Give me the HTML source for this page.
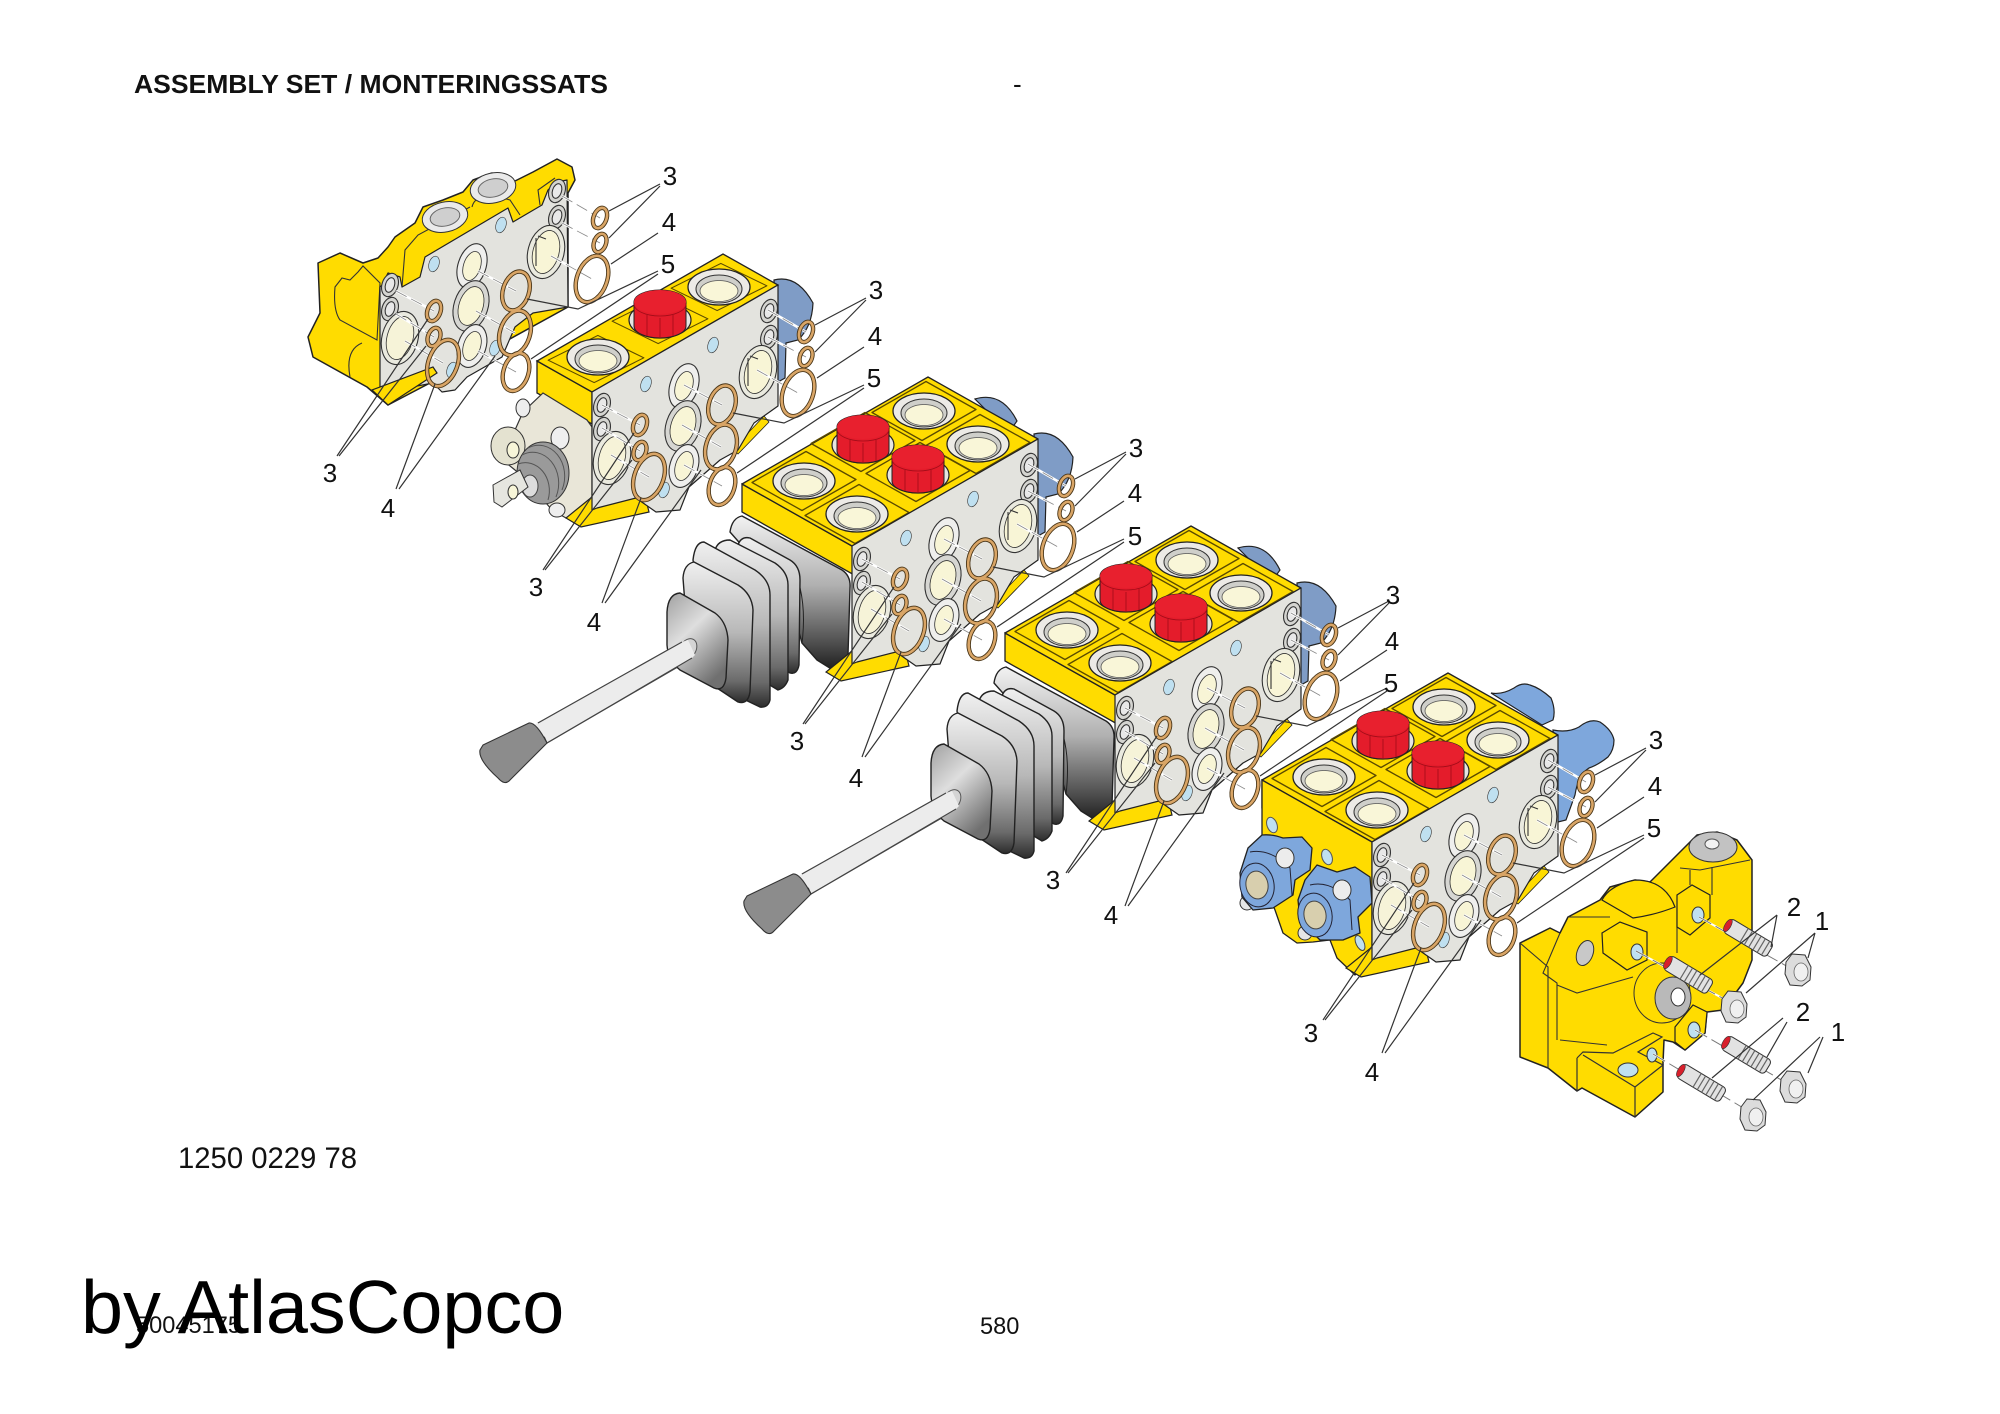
<!DOCTYPE html>
<html lang="en">
<head>
<meta charset="utf-8">
<title>Assembly set</title>
<style>
html,body{margin:0;padding:0;background:#fff;width:2000px;height:1414px;overflow:hidden}
svg{display:block}
text{font-family:"Liberation Sans",sans-serif;fill:#111}
.n{font-size:26px;text-anchor:middle}
</style>
</head>
<body>
<svg xmlns="http://www.w3.org/2000/svg" width="2000" height="1414" viewBox="0 0 2000 1414">
<defs>
<linearGradient id="fin" x1="0" y1="0" x2="0" y2="1"><stop offset="0" stop-color="#f0f0f0"/><stop offset=".5" stop-color="#b8b8b8"/><stop offset=".85" stop-color="#6a6a6a"/><stop offset="1" stop-color="#2c2c2c"/></linearGradient>
<linearGradient id="plate" x1="0" y1="0" x2="0" y2="1"><stop offset="0" stop-color="#f2f2f2"/><stop offset=".45" stop-color="#b0b0b0"/><stop offset=".8" stop-color="#555"/><stop offset="1" stop-color="#1e1e1e"/></linearGradient>
<linearGradient id="knob" x1="0" y1="0" x2=".6" y2="1"><stop offset="0" stop-color="#a0a0a0"/><stop offset=".45" stop-color="#dedede"/><stop offset="1" stop-color="#707070"/></linearGradient>
<polygon id="cell" points="2,-29.5 52,-1.5 -2,29.5 -52,1.5" fill="none" stroke="#5a4a00" stroke-width="1.3" stroke-linejoin="round"/>
<g id="cup"><ellipse rx="31" ry="18" fill="#eceae6" stroke="#222" stroke-width="1.3"/><ellipse cy="2" rx="23" ry="14" fill="#cfcfca" stroke="#333"/><ellipse cy="4" rx="19" ry="10.5" fill="#f9f6d8" stroke="#555" stroke-width=".8"/></g>
<g id="cap"><ellipse cy="2" rx="31" ry="18" fill="#e6e5e1" stroke="#222" stroke-width="1.2"/><path d="M-26,-16V8A26,12 0 0 0 26,8V-16A26,12 0 0 0 -26,-16Z" fill="#e41c2b" stroke="#222"/><ellipse cy="-16" rx="26" ry="12" fill="#e8202e"/><path d="M-26,-14A26,12 0 0 0 26,-14M-13,-3V18M0,0V20M13,-3V18" fill="none" stroke="#a00c18" stroke-width=".8"/></g>
<g id="top2">
<polygon points="0,0 -110,-62 -110,-34 4,30 4,0" fill="#ffdc00" stroke="#222" stroke-width="1.3"/>
<polygon points="0,0 186,-107 76,-169 -110,-62" fill="#ffdc00" stroke="#222" stroke-width="1.3" stroke-linejoin="round"/>
<use href="#cell" x="-48" y="-65"/><use href="#cell" x="5" y="-32"/><use href="#cell" x="11" y="-104"/><use href="#cell" x="66" y="-74"/><use href="#cell" x="72" y="-135"/><use href="#cell" x="126" y="-102"/>
<use href="#cup" x="-48" y="-65"/><use href="#cup" x="5" y="-32"/><use href="#cup" x="72" y="-135"/><use href="#cup" x="126" y="-102"/>
<use href="#cap" x="11" y="-103"/><use href="#cap" x="66" y="-73"/>
</g>
<g id="holes" stroke="#333" stroke-width="1.1">
<ellipse cx="10" cy="13" rx="8" ry="12" fill="#d4d4d0" transform="rotate(18 10 13)"/><ellipse cx="10" cy="13" rx="4.5" ry="7.5" fill="#e8e8e8" transform="rotate(18 10 13)"/>
<ellipse cx="10" cy="37" rx="8" ry="12" fill="#d4d4d0" transform="rotate(18 10 37)"/><ellipse cx="10" cy="37" rx="4.5" ry="7.5" fill="#e8e8e8" transform="rotate(18 10 37)"/>
<ellipse cx="20" cy="66" rx="18" ry="27" fill="#eaeadf" transform="rotate(15 20 66)"/><ellipse cx="20" cy="66" rx="13" ry="22" fill="#f6f3d8" stroke-width=".8" transform="rotate(15 20 66)"/>
<ellipse cx="54" cy="-8" rx="5" ry="8" fill="#bfe0f0" stroke-width=".6" transform="rotate(18 54 -8)"/>
<ellipse cx="121" cy="-47" rx="5" ry="8" fill="#bfe0f0" stroke-width=".6" transform="rotate(18 121 -47)"/>
<ellipse cx="72" cy="98" rx="5" ry="8" fill="#bfe0f0" stroke-width=".6" transform="rotate(18 72 98)"/>
<ellipse cx="92" cy="-6" rx="14" ry="23" fill="#efefed" transform="rotate(18 92 -6)"/><ellipse cx="92" cy="-6" rx="8.5" ry="15" fill="#f8f5d6" stroke-width=".8" transform="rotate(18 92 -6)"/>
<ellipse cx="91" cy="34" rx="17" ry="26" fill="#d6d6d2" transform="rotate(18 91 34)"/><ellipse cx="91" cy="34" rx="12" ry="20" fill="#f8f5d6" stroke-width=".8" transform="rotate(18 91 34)"/>
<ellipse cx="92" cy="74" rx="14" ry="22" fill="#efefed" transform="rotate(18 92 74)"/><ellipse cx="92" cy="74" rx="8.5" ry="15" fill="#f8f5d6" stroke-width=".8" transform="rotate(18 92 74)"/>
<ellipse cx="177" cy="-81" rx="8" ry="12" fill="#d4d4d0" transform="rotate(18 177 -81)"/><ellipse cx="177" cy="-81" rx="4.5" ry="7.5" fill="#e8e8e8" transform="rotate(18 177 -81)"/>
<ellipse cx="177" cy="-55" rx="8" ry="12" fill="#d4d4d0" transform="rotate(18 177 -55)"/><ellipse cx="177" cy="-55" rx="4.5" ry="7.5" fill="#e8e8e8" transform="rotate(18 177 -55)"/>
<ellipse cx="166" cy="-20" rx="18" ry="27" fill="#eaeadf" transform="rotate(15 166 -20)"/><ellipse cx="166" cy="-20" rx="13" ry="22" fill="#f8f5d6" stroke-width=".8" transform="rotate(15 166 -20)"/>
<path d="M156,-34V-6M158,-36L166,-33" fill="none"/>
</g>
<g id="face">
<polygon points="-26,126 -11,135 57,120 52,100 0,105" fill="#ffdc00" stroke="#222" stroke-width="1.2"/>
<polygon points="140,58 172,24 177,30 146,62" fill="#ffdc00" stroke="#222" stroke-width=".8"/>
<polygon points="0,0 186,-107 186,14 162,31 146,58 128,68 97,95 88,118 64,120 44,106 5,116 0,118" fill="#e3e3de" stroke="#222" stroke-width="1.2" stroke-linejoin="round"/>
<use href="#holes"/>
</g>
<g id="axes" fill="none">
<path d="M10,13L48,33M10,36L48,59M19,63L57,85M92,-7L130,13M90,33L129,55M92,73L130,94M176,-82L214,-60M176,-55L214,-35M165,-22L206,1" stroke="#fff" stroke-width="2.5"/>
<path d="M10,13L48,33M10,36L48,59M19,63L57,85M92,-7L130,13M90,33L129,55M92,73L130,94M176,-82L214,-60M176,-55L214,-35M165,-22L206,1" stroke="#888" stroke-width=".8" stroke-dasharray="12 5"/>
</g>
<g id="rings">
<use href="#axes"/>
<g fill="none" stroke="#4a3618" stroke-width="4.4">
<ellipse cx="48" cy="33" rx="6.5" ry="10.5" transform="rotate(20 48 33)"/><ellipse cx="48" cy="59" rx="6" ry="9.5" transform="rotate(20 48 59)"/><ellipse cx="57" cy="85" rx="14.5" ry="24" transform="rotate(20 57 85)"/><ellipse cx="130" cy="13" rx="13" ry="20" transform="rotate(18 130 13)"/><ellipse cx="129" cy="55" rx="15" ry="23" transform="rotate(18 129 55)"/><ellipse cx="130" cy="94" rx="12.5" ry="19.5" transform="rotate(18 130 94)"/><ellipse cx="214" cy="-60" rx="6.5" ry="10.5" transform="rotate(20 214 -60)"/><ellipse cx="214" cy="-35" rx="6" ry="9.5" transform="rotate(20 214 -35)"/><ellipse cx="206" cy="1" rx="15" ry="24" transform="rotate(20 206 1)"/>
</g>
<g fill="none" stroke="#d9a566" stroke-width="2.6">
<ellipse cx="48" cy="33" rx="6.5" ry="10.5" transform="rotate(20 48 33)"/><ellipse cx="48" cy="59" rx="6" ry="9.5" transform="rotate(20 48 59)"/><ellipse cx="57" cy="85" rx="14.5" ry="24" transform="rotate(20 57 85)"/><ellipse cx="130" cy="13" rx="13" ry="20" transform="rotate(18 130 13)"/><ellipse cx="129" cy="55" rx="15" ry="23" transform="rotate(18 129 55)"/><ellipse cx="130" cy="94" rx="12.5" ry="19.5" transform="rotate(18 130 94)"/><ellipse cx="214" cy="-60" rx="6.5" ry="10.5" transform="rotate(20 214 -60)"/><ellipse cx="214" cy="-35" rx="6" ry="9.5" transform="rotate(20 214 -35)"/><ellipse cx="206" cy="1" rx="15" ry="24" transform="rotate(20 206 1)"/>
</g>
<path d="M274,-94L223,-67M274,-92L223,-40M272,-45L225,-14M272,-7L192,31L141,21M272,-4L145,81M-49,178L42,41M-47,178L40,68M10,211L49,106M13,211L109,78" fill="none" stroke="#333" stroke-width="1.2"/>
</g>
<path id="blueb" d="M182,-112Q205,-118 221,-89Q220,-65 206,-52L194,-49L193,-14L186,-10Z" fill="#7f9cc6" stroke="#222" stroke-width="1.2"/>
<path id="blueb2" d="M123,-147Q150,-155 165,-125L160,-118L140,-130Z" fill="#7f9cc6" stroke="#222" stroke-width="1.2"/>
<g id="lever" stroke="#222" stroke-width="1.4" stroke-linejoin="round">
<path d="M730,532Q732,518 742,516L842,570Q851,576 850,588L848,655L833,670L817,660L802,643L790,600Z" fill="url(#plate)"/>
<path d="M790,560Q808,595 802,643" fill="none" stroke-width="1"/>
<path d="M738,545Q741,536 750,538L790,560Q800,566 800,580L799,665Q797,675 790,673L770,660Z" fill="url(#fin)"/>
<path d="M715,550Q718,540 730,540L775,563Q788,572 788,585L788,680Q785,688 778,690L745,670Z" fill="url(#fin)"/>
<path d="M693,560Q695,542 704,542L755,570Q770,580 770,595L770,700Q768,708 760,707L735,695L700,600Z" fill="url(#fin)"/>
<path d="M683,578Q684,564 694,562L738,585Q752,594 753,610L750,692Q748,705 738,702L690,670Z" fill="url(#fin)"/>
<polygon points="682,642 695,657 547,743 538,723" fill="#ececec" stroke="#444" stroke-width="1.1"/>
<path d="M667,612Q668,594 680,593L715,613Q727,622 728,640L726,678Q724,692 714,688L680,670Q668,660 667,645Z" fill="url(#knob)"/>
<ellipse cx="688" cy="649" rx="8" ry="11" fill="#d4d4d4" stroke="#555" stroke-width="1" transform="rotate(30 688 649)"/>
<polygon points="682,642 688,640 695,655 690,660 538,740 532,726" fill="#ececec" stroke="none"/>
<path d="M682,642L538,723M692,658L547,743" stroke="#444" stroke-width="1.1" fill="none"/>
<path d="M483,745L529,723Q536,722 547,743L510,780Q505,786 498,778Q478,760 480,750Z" fill="#8c8c8c" stroke="#333" stroke-width="1.1"/>
</g>
<g id="stud">
<rect x="0" y="-8" width="50" height="16" rx="4" fill="#e2e2e2" stroke="#333"/>
<path d="M20,-8V8M25,-8V8M30,-8V8M35,-8V8M40,-8V8M45,-8V8" stroke="#666" stroke-width="1.2"/>
<ellipse cx="1" cy="0" rx="3" ry="7" fill="#d8202c" stroke="#333" stroke-width=".6"/>
</g>
<g id="nut"><polygon points="-6,-16 7,-15 13,-3 12,10 4,16 -8,15 -13,4 -12,-8" fill="#dcdcdc" stroke="#333"/><ellipse cx="3" cy="2" rx="7" ry="9" fill="#f0f0f0" stroke="#666" stroke-width=".8"/></g>
</defs>

<rect width="2000" height="1414" fill="#fff"/>
<text x="134" y="93" font-size="26" font-weight="700" textLength="474" lengthAdjust="spacingAndGlyphs">ASSEMBLY SET / MONTERINGSSATS</text>
<text x="1013" y="93" font-size="26">-</text>

<!-- block 1 -->
<path d="M318,263L340,253L363,263L378,258L388,247L395,237L415,223L423,207L443,200L463,192L473,180L492,173L513,182L533,172L557,159L572,167L575,180L568,193L568,307L430,383L388,405L367,387L313,357L308,337L320,313Z" fill="#ffdc00" stroke="#222" stroke-width="1.5" stroke-linejoin="round"/>
<path d="M335,287L342,278L350,280L358,272L363,266L380,283L377,340L340,320Q333,310 335,287ZM350,377Q345,350 362,343M402,287L405,250L418,235L470,207M472,207Q476,190 510,200L520,215M540,205L538,190L555,178" fill="none" stroke="#333" stroke-width="1.1"/>
<ellipse cx="445" cy="217" rx="23" ry="15" fill="#eaeaea" stroke="#333" transform="rotate(-12 445 217)"/><ellipse cx="445" cy="217" rx="15" ry="9" fill="#cfcfcf" stroke="#666" transform="rotate(-12 445 217)"/>
<ellipse cx="493" cy="188" rx="23" ry="15" fill="#eaeaea" stroke="#333" transform="rotate(-12 493 188)"/><ellipse cx="493" cy="188" rx="15" ry="9" fill="#cfcfcf" stroke="#666" transform="rotate(-12 493 188)"/>
<polygon points="382,285 388,273 400,277 402,287 420,277 425,257 508,208 513,222 542,205 548,190 557,182 567,180 568,307 533,313 515,327 502,357 467,377 455,390 442,392 433,383 380,393 380,287" fill="#e3e3de" stroke="#222" stroke-width="1.2" stroke-linejoin="round"/>
<use href="#holes" transform="translate(380,272)"/>
<ellipse cx="495" cy="348" rx="5" ry="8" fill="#bfe0f0" stroke="#444" stroke-width=".6" transform="rotate(18 495 348)"/>
<polygon points="372,390 388,405 437,373 433,367" fill="#ffdc00" stroke="#222" stroke-width="1.2"/>
<g transform="translate(386,278)"><use href="#rings"/>
<text class="n" x="284" y="-93">3</text><text class="n" x="283" y="-47">4</text><text class="n" x="282" y="-5">5</text><text class="n" x="-56" y="204">3</text><text class="n" x="2" y="239">4</text></g>

<!-- block 2 -->
<use href="#blueb" transform="translate(592,392)"/>
<polygon points="592,392 537,361 537,393 592,424" fill="#ffdc00" stroke="#222" stroke-width="1.3"/>
<path d="M543,393L587,420L592,427L592,507L566,518L552,510L535,490L515,470L500,458L492,445L505,428L515,430L523,412Z" fill="#e9e6d8" stroke="#333" stroke-width="1.2"/>
<ellipse cx="523" cy="408" rx="7" ry="9" fill="#eee" stroke="#333"/>
<ellipse cx="557" cy="510" rx="8" ry="7" fill="#eee" stroke="#333"/>
<ellipse cx="508" cy="446" rx="17" ry="19" fill="#e4e2d0" stroke="#333"/><ellipse cx="513" cy="450" rx="6" ry="8" fill="#f7f5d8" stroke="#333"/>
<ellipse cx="560" cy="438" rx="9" ry="11" fill="#efefef" stroke="#333"/>
<ellipse cx="543" cy="473" rx="26" ry="31" fill="#9a9a9a" stroke="#333"/>
<path d="M528,448A26,31 0 0 1 562,490M522,455A26,31 0 0 1 556,497M518,464A24,28 0 0 1 548,500" fill="none" stroke="#555"/>
<ellipse cx="530" cy="486" rx="8" ry="11" fill="#dcdcdc" stroke="#444"/>
<path d="M493,485L520,470L528,487L502,507L494,502Z" fill="#e6e6e0" stroke="#333"/>
<ellipse cx="513" cy="492" rx="5" ry="7" fill="#f7f5d8" stroke="#333"/>
<polygon points="592,392 778,285 723,254 537,361" fill="#ffdc00" stroke="#222" stroke-width="1.3"/>
<g transform="translate(592,392)">
<g transform="translate(4,-33) scale(.92,.8)"><use href="#cell"/></g><g transform="translate(68,-72) scale(.92,.8)"><use href="#cell"/></g><g transform="translate(127,-105) scale(.92,.8)"><use href="#cell"/></g>
<use href="#cup" x="6" y="-35"/><use href="#cap" x="68" y="-74"/><use href="#cup" x="127" y="-105"/>
<use href="#face"/><use href="#rings"/>
<text class="n" x="284" y="-93">3</text><text class="n" x="283" y="-47">4</text><text class="n" x="282" y="-5">5</text><text class="n" x="-56" y="204">3</text><text class="n" x="2" y="239">4</text>
</g>

<!-- block 3 -->
<g transform="translate(852,546)"><use href="#blueb2"/><use href="#blueb"/><use href="#top2"/></g>
<use href="#lever"/>
<g transform="translate(852,546)"><use href="#face"/><use href="#rings"/>
<text class="n" x="284" y="-89">3</text><text class="n" x="283" y="-44">4</text><text class="n" x="283" y="-1">5</text><text class="n" x="-55" y="204">3</text><text class="n" x="4" y="241">4</text></g>

<!-- block 4 -->
<g transform="translate(1115,695)"><use href="#blueb2"/><use href="#blueb"/><use href="#top2"/></g>
<use href="#lever" transform="translate(264,151)"/>
<g transform="translate(1115,695)"><use href="#face"/><use href="#rings"/>
<text class="n" x="278" y="-91">3</text><text class="n" x="277" y="-45">4</text><text class="n" x="276" y="-3">5</text><text class="n" x="-62" y="194">3</text><text class="n" x="-4" y="229">4</text></g>

<!-- block 5 -->
<path d="M1491,693Q1502,695 1514,688Q1522,682 1530,685Q1540,688 1551,698Q1556,710 1553,720L1542,725Z" fill="#7ea7dc" stroke="#222" stroke-width="1.2"/>
<path d="M1553,730Q1568,733 1579,727Q1590,718 1600,722Q1612,730 1614,740Q1614,750 1608,757Q1598,765 1589,768Q1578,775 1575,795L1566,820L1558,822Z" fill="#7ea7dc" stroke="#222" stroke-width="1.2"/>
<g transform="translate(1372,842)"><use href="#top2"/></g>
<path d="M1262,780L1372,842L1372,960L1355,975L1337,958L1330,940L1313,942L1297,943L1283,933L1275,910L1262,877Z" fill="#ffdc00" stroke="#222" stroke-width="1.3" stroke-linejoin="round"/>
<ellipse cx="1272" cy="825" rx="5" ry="8" fill="#bfe0f0" stroke="#555" transform="rotate(-20 1272 825)"/>
<ellipse cx="1327" cy="857" rx="5" ry="8" fill="#bfe0f0" stroke="#555" transform="rotate(-20 1327 857)"/>
<ellipse cx="1247" cy="903" rx="7" ry="7" fill="#e6e6e6" stroke="#333"/>
<ellipse cx="1305" cy="933" rx="7" ry="7" fill="#e6e6e6" stroke="#333"/>
<ellipse cx="1360" cy="943" rx="4" ry="8" fill="#bfe0f0" stroke="#444" transform="rotate(-25 1360 943)"/>
<path d="M1248,848L1262,835Q1272,834 1283,838L1302,837L1312,848L1310,870L1295,880L1293,895L1273,908L1253,910L1242,897L1240,873Z" fill="#7ea7dc" stroke="#222" stroke-width="1.3" stroke-linejoin="round"/>
<path d="M1250,852Q1270,848 1290,868L1292,895" fill="none" stroke="#223" stroke-width="1"/>
<ellipse cx="1257" cy="885" rx="17" ry="22" fill="#7ea7dc" stroke="#223" transform="rotate(-10 1257 885)"/>
<ellipse cx="1257" cy="885" rx="11" ry="14" fill="#d8cfae" stroke="#444" transform="rotate(-10 1257 885)"/>
<ellipse cx="1285" cy="858" rx="9" ry="10" fill="#ececec" stroke="#333"/>
<path d="M1305,880L1317,865L1337,872L1355,867L1370,877L1372,903L1358,917L1360,933L1343,940L1320,940L1300,920L1298,900Z" fill="#7ea7dc" stroke="#222" stroke-width="1.3" stroke-linejoin="round"/>
<path d="M1310,885Q1330,880 1350,900L1352,930" fill="none" stroke="#223" stroke-width="1"/>
<ellipse cx="1315" cy="915" rx="17" ry="22" fill="#7ea7dc" stroke="#223" transform="rotate(-10 1315 915)"/>
<ellipse cx="1315" cy="915" rx="11" ry="14" fill="#d8cfae" stroke="#444" transform="rotate(-10 1315 915)"/>
<ellipse cx="1342" cy="890" rx="9" ry="10" fill="#ececec" stroke="#333"/>
<g transform="translate(1372,842)"><use href="#face"/><use href="#rings"/>
<text class="n" x="284" y="-93">3</text><text class="n" x="283" y="-47">4</text><text class="n" x="282" y="-5">5</text><text class="n" x="-61" y="200">3</text><text class="n" x="0" y="239">4</text></g>

<!-- end housing -->
<path d="M1520,943L1550,928L1560,933L1568,917L1600,900L1610,887L1635,880L1650,882L1677,855L1687,845L1697,835L1717,832L1737,840L1752,860L1752,960L1743,983L1723,1010L1707,1012L1705,1033L1685,1050L1673,1042L1664,1040L1663,1063L1663,1092L1635,1117L1582,1088L1577,1091L1548,1068L1520,1057Z" fill="#ffdc00" stroke="#222" stroke-width="1.5" stroke-linejoin="round"/>
<path d="M1520,943L1548,967L1548,1068M1560,933L1543,973L1557,983L1557,1040M1568,917L1610,917M1557,985L1577,993L1633,977M1560,1040L1607,1045M1677,908L1677,953M1712,867L1712,895M1690,870L1690,885M1680,868L1700,870L1750,860" fill="none" stroke="#333" stroke-width="1.1"/>
<path d="M1602,900Q1610,885 1635,880Q1665,880 1675,907Q1655,915 1633,918Z" fill="#ffdc00" stroke="#222" stroke-width="1.2"/>
<ellipse cx="1585" cy="953" rx="8" ry="13" fill="#c8c8c8" stroke="#333" transform="rotate(20 1585 953)"/>
<ellipse cx="1713" cy="847" rx="24" ry="15" fill="#c2c2c2" stroke="#333"/><ellipse cx="1712" cy="844" rx="7" ry="5" fill="#f2f2f2" stroke="#555"/>
<polygon points="1677,895 1692,885 1710,895 1710,918 1690,935 1677,927" fill="#ffdc00" stroke="#222" stroke-width="1.2"/>
<ellipse cx="1698" cy="915" rx="6" ry="8" fill="#bfe0f0" stroke="#333"/>
<polygon points="1602,933 1620,922 1647,932 1647,960 1627,970 1603,953" fill="#ffdc00" stroke="#222" stroke-width="1.2"/>
<ellipse cx="1637" cy="952" rx="6" ry="8" fill="#bfe0f0" stroke="#333"/>
<ellipse cx="1662" cy="993" rx="28" ry="30" fill="#ffdc00" stroke="#333"/>
<ellipse cx="1673" cy="998" rx="18" ry="21" fill="#b9b9b9" stroke="#333"/><ellipse cx="1678" cy="997" rx="7" ry="9" fill="#fff" stroke="#333"/>
<polygon points="1675,1027 1693,1005 1707,1012 1705,1033 1685,1050 1675,1042" fill="#ffdc00" stroke="#222" stroke-width="1.2"/>
<ellipse cx="1694" cy="1030" rx="6" ry="8" fill="#bfe0f0" stroke="#333"/>
<path d="M1577,1058L1583,1052L1613,1053L1653,1033L1662,1037L1638,1052L1663,1065L1635,1087L1583,1055M1635,1087L1635,1117M1577,1058L1577,1091" fill="none" stroke="#333" stroke-width="1.2"/>
<ellipse cx="1628" cy="1070" rx="10" ry="7" fill="#bfe0f0" stroke="#333"/>
<ellipse cx="1652" cy="1055" rx="5" ry="7" fill="#bfe0f0" stroke="#333"/>
<path d="M1699,917L1790,968M1636,951L1735,1005M1695,1030L1790,1085M1653,1054L1750,1112" fill="none" stroke="#fff" stroke-width="2"/>
<path d="M1699,917L1790,968M1636,951L1735,1005M1695,1030L1790,1085M1653,1054L1750,1112" fill="none" stroke="#777" stroke-width="1" stroke-dasharray="14 5"/>
<use href="#stud" transform="translate(1727,925) rotate(31)"/>
<use href="#stud" transform="translate(1667,962) rotate(31)"/>
<use href="#stud" transform="translate(1725,1042) rotate(31)"/>
<use href="#stud" transform="translate(1680,1070) rotate(31)"/>
<use href="#nut" x="1798" y="970"/><use href="#nut" x="1734" y="1007"/><use href="#nut" x="1793" y="1087"/><use href="#nut" x="1753" y="1115"/>
<path d="M1777,915L1771,947M1777,915L1700,975M1815,933L1808,958M1815,933L1746,993M1787,1022L1767,1057M1783,1018L1712,1078M1823,1037L1808,1073M1820,1037L1753,1100" fill="none" stroke="#333" stroke-width="1.2"/>
<text class="n" x="1794" y="916">2</text><text class="n" x="1822" y="930">1</text><text class="n" x="1803" y="1021">2</text><text class="n" x="1838" y="1041">1</text>

<text x="178" y="1168" font-size="30" textLength="179" lengthAdjust="spacingAndGlyphs">1250 0229 78</text>
<text x="136" y="1333" font-size="23.6">50045175</text>
<text x="980" y="1334" font-size="23.6">580</text>
<text x="81" y="1333" font-size="75.6" style="fill:#000">by AtlasCopco</text>
</svg>
</body>
</html>
